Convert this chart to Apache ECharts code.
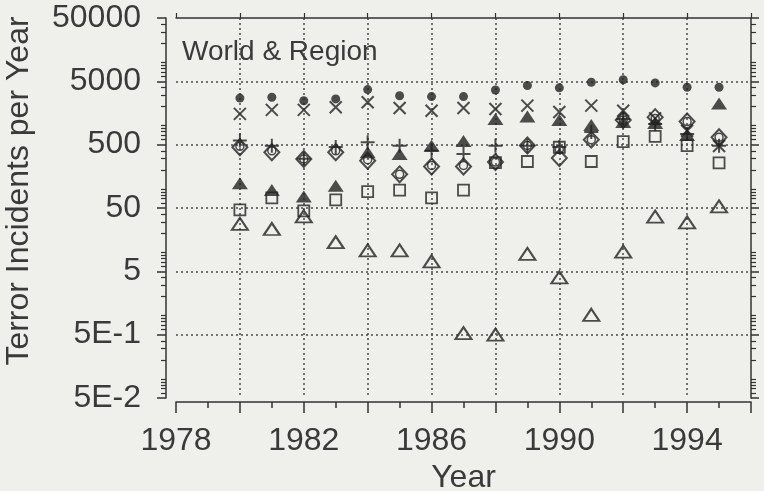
<!DOCTYPE html>
<html><head><meta charset="utf-8">
<script src="https://cdn.jsdelivr.net/npm/echarts@6/dist/echarts.min.js"></script>
<style>html,body{margin:0;padding:0;background:#efefec;} #c{width:764px;height:491px;}</style>
</head><body><div id="c"></div>
<script>
// ---- data ----
const years = [1980,1981,1982,1983,1984,1985,1986,1987,1988,1989,1990,1991,1992,1993,1994,1995];
const worldDots   = [2720,2800,2470,2640,3700,2960,2870,2870,3650,4300,3950,4840,5300,4720,4030,4030];
const crosses     = [1530,1770,1770,1950,2340,1900,1720,1900,1830,2070,1640,2070,1720,1300,830,475];
const pluses      = [580,480,300,460,545,480,400,356,480,480,460,790,1270,1060,740,480];
const filledTris  = [123,96,76,112,380,357,482,570,1270,1395,1230,1020,1140,1100,710,2240];
const diamonds    = [455,379,297,379,279,170,226,226,266,486,308,600,1230,1360,1160,654];
const circles     = [470,400,297,400,290,170,235,235,266,486,420,600,1230,1300,1160,654];
const squares     = [46.6,72,45,67,91,96,72,96,260,271,455,271,560,675,482,257];
const openTris    = [28,23.3,37,14.4,10.7,10.7,7.2,0.53,0.5,9.4,4.0,1.03,10.2,36.5,29.7,53];
const yTickLabels = ['5E-2','5E-1','5','50','500','5000','50000'];
const xTickLabels = ['1978','1982','1986','1990','1994'];

// ---- build ----
const LOG5 = Math.log10(5);
const toY = v => Math.log10(v) - LOG5;   // 5E-2 -> -2 ... 50000 -> 4
const pts = arr => years.map((yr, i) => [yr, toY(arr[i])]);
const minorVals = [];
for (let e = -2; e < 4; e++) for (const k of [6,7,8,9,10,20,30,40]) minorVals.push(Math.log10(k / 5) + e);

const INK = '#333';
const TXT = '#3a3a3a';
const MARK = '#222';
const FONT = 'Liberation Sans, Arial, sans-serif';
const dotted = {color: '#4a4a4a', width: 1.5, type: [2, 3]};

function yAx(pos, opts) {
  return Object.assign({
    type: 'value', min: -2, max: 4, interval: 1, position: pos,
    axisLine: {show: false, onZero: false}, axisTick: {show: false}, axisLabel: {show: false}, splitLine: {show: false}
  }, opts);
}

const chart = echarts.init(document.getElementById('c'));
const sym = (name, data, symbol, size, filled, bw) => ({
  name, type: 'scatter', data: pts(data), symbol, symbolSize: size,
  itemStyle: filled ? {color: MARK, borderWidth: 0}
                    : {color: 'rgba(0,0,0,0)', borderColor: MARK, borderWidth: bw || 1.8},
  z: 5
});

chart.setOption({
  animation: false,
  backgroundColor: '#efefec',
  grid: {left: 176, right: 13, top: 18, bottom: 93, containLabel: false, outerBoundsMode: 'none'},
  xAxis: [{
    type: 'value', min: 1978, max: 1996, interval: 2, position: 'bottom', offset: 4,
    axisLine: {show: true, onZero: false, lineStyle: {color: INK, width: 1.5}},
    axisTick: {show: true, length: 11, lineStyle: {color: INK, width: 1.5}},
    minorTick: {show: true, splitNumber: 2, length: 6, lineStyle: {color: INK, width: 1.5}},
    axisLabel: {show: true, margin: 23, fontSize: 32, fontFamily: FONT, color: TXT,
      formatter: v => xTickLabels.includes(String(v)) ? String(v) : ''},
    splitLine: {show: true, showMinLine: false, showMaxLine: false, lineStyle: dotted},
    name: 'Year', nameLocation: 'middle', nameGap: 50,
    nameTextStyle: {fontSize: 32, fontFamily: FONT, color: TXT}
  }, {
    type: 'value', min: 1978, max: 1996, interval: 2, position: 'top',
    axisLine: {show: true, onZero: false, lineStyle: {color: INK, width: 1.5}},
    axisTick: {show: true, inside: false, length: 5, lineStyle: {color: INK, width: 1.2}},
    axisLabel: {show: false}, splitLine: {show: false}
  }],
  yAxis: [
    yAx('left', {
      offset: 10,
      axisLine: {show: true, onZero: false, lineStyle: {color: INK, width: 1.5}},
      axisTick: {show: true, length: 9, lineStyle: {color: INK, width: 1.5}},
      axisLabel: {show: true, margin: 25, fontSize: 32, fontFamily: FONT, color: TXT,
        formatter: v => yTickLabels[Math.round(v) + 2]},
      splitLine: {show: true, showMinLine: false, showMaxLine: false, lineStyle: dotted}
    }),
    yAx('left', {offset: 10,
      axisTick: {show: true, length: 5, customValues: minorVals, lineStyle: {color: INK, width: 1.2}}}),
    yAx('right', {
      axisLine: {show: true, onZero: false, lineStyle: {color: INK, width: 1.5}},
      axisTick: {show: true, length: 8, lineStyle: {color: INK, width: 1.5}}}),
    yAx('right', {
      axisTick: {show: true, length: 5, customValues: minorVals, lineStyle: {color: INK, width: 1.2}}})
  ],
  graphic: [
    {type: 'text', x: 182, y: 38, style: {text: 'World & Region', font: '28px ' + FONT, fill: TXT}},
    {type: 'text', x: 19, y: 191, rotation: Math.PI / 2,
      style: {text: 'Terror Incidents per Year', font: '32px ' + FONT, fill: TXT,
        textAlign: 'center', textVerticalAlign: 'middle'}}
  ],
  series: [
    sym('openTris', openTris, 'triangle', [16, 12], false, 2),
    sym('squares', squares, 'rect', 11, false, 1.8),
    sym('circles', circles, 'circle', 8, false, 1.5),
    sym('diamonds', diamonds, 'diamond', [15, 16], false, 2),
    sym('pluses', pluses, 'path://M5,0L5,10M0,5L10,5', 14, false, 2),
    sym('filledTris', filledTris, 'triangle', [16, 12], true),
    sym('crosses', crosses, 'path://M0,0L10,10M0,10L10,0', 12, false, 2),
    sym('worldDots', worldDots, 'circle', 9, true)
  ]
});
</script>
</body></html>
